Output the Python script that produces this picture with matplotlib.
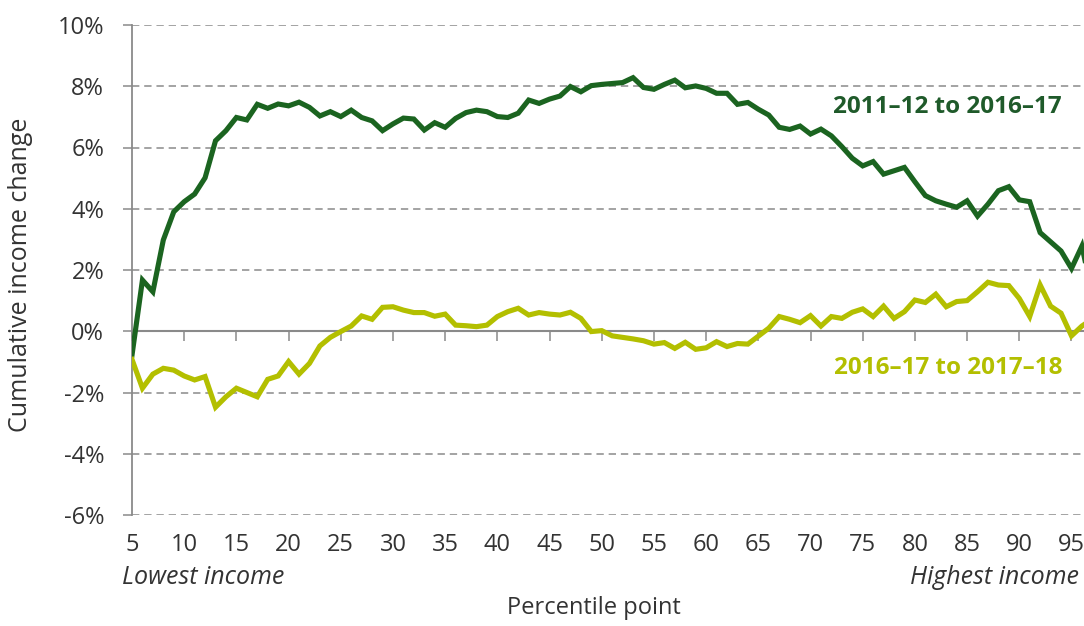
import matplotlib
matplotlib.use("Agg")
import matplotlib.pyplot as plt
import numpy as np

plt.rcParams['font.family'] = ['Open Sans', 'DejaVu Sans']

# Данные: процентили и накопленное изменение дохода (%)
percentiles = list(range(5, 98))

change_2011_2016 = [
    -0.78, 1.67, 1.29, 2.98, 3.90, 4.23, 4.48, 5.01, 6.22, 6.55,
    6.98, 6.90, 7.41, 7.28, 7.42, 7.36, 7.48, 7.31, 7.03, 7.17,
    7.01, 7.22, 6.98, 6.87, 6.55, 6.77, 6.96, 6.93, 6.57, 6.81,
    6.66, 6.95, 7.14, 7.22, 7.17, 7.01, 6.98, 7.12, 7.55, 7.44,
    7.58, 7.68, 7.99, 7.82, 8.02, 8.06, 8.09, 8.12, 8.28, 7.96,
    7.90, 8.06, 8.20, 7.95, 8.01, 7.93, 7.77, 7.77, 7.41, 7.47,
    7.25, 7.06, 6.66, 6.59, 6.70, 6.44, 6.60, 6.38, 6.03, 5.65,
    5.40, 5.54, 5.13, 5.24, 5.35, 4.88, 4.43, 4.26, 4.15, 4.05,
    4.26, 3.76, 4.15, 4.59, 4.72, 4.29, 4.23, 3.22, 2.92, 2.62,
    2.05, 2.78, 1.20,
]

change_2016_2017 = [
    -0.92, -1.86, -1.40, -1.21, -1.27, -1.46, -1.59, -1.48, -2.48, -2.14,
    -1.86, -2.00, -2.14, -1.57, -1.46, -0.99, -1.40, -1.05, -0.48, -0.20,
    -0.01, 0.17, 0.50, 0.39, 0.78, 0.80, 0.69, 0.61, 0.61, 0.49,
    0.56, 0.20, 0.18, 0.15, 0.20, 0.48, 0.64, 0.75, 0.53, 0.61,
    0.56, 0.53, 0.62, 0.42, -0.01, 0.02, -0.15, -0.20, -0.25, -0.31,
    -0.42, -0.37, -0.56, -0.36, -0.59, -0.54, -0.34, -0.50, -0.40, -0.42,
    -0.16, 0.10, 0.48, 0.39, 0.28, 0.51, 0.17, 0.48, 0.42, 0.62,
    0.73, 0.48, 0.82, 0.42, 0.64, 1.02, 0.94, 1.21, 0.80, 0.97,
    1.00, 1.29, 1.60, 1.51, 1.49, 1.07, 0.48, 1.51, 0.82, 0.59,
    -0.15, 0.17, 0.40,
]

x_ticks = list(range(5, 100, 5))
y_ticks = list(range(-6, 12, 2))

dark_green = '#1b6420'
lime = '#b3bf00'
grey = '#8a8a8a'
text_col = '#333333'

fig = plt.figure(figsize=(10.84, 6.26), dpi=100)
ax = fig.add_axes([132 / 1084, 1 - 515 / 626, 1 - 132 / 1084, 490 / 626])

ax.plot(percentiles, change_2011_2016, color=dark_green, lw=3.7, solid_joinstyle='miter', zorder=4)
ax.plot(percentiles, change_2016_2017, color=lime, lw=3.7, solid_joinstyle='miter', zorder=4)

ax.set_xlim(5, 96.2)
ax.set_ylim(-6, 10)

# Сетка
for v in y_ticks:
    ax.axhline(v, color=grey, lw=1.1, linestyle=(0, (4.8, 3.2)), zorder=1)

ax.set_yticks(y_ticks)
ax.set_yticklabels([f'{v}%' for v in y_ticks])
ax.tick_params(axis='y', length=6.5, width=1.1, color=grey, pad=13.5, labelsize=17, labelcolor=text_col)

ax.set_xticks(x_ticks)
ax.set_xticklabels([str(v) for v in x_ticks])
ax.tick_params(axis='x', length=0, pad=13, labelsize=17, labelcolor=text_col)

for s in ['top', 'right', 'bottom']:
    ax.spines[s].set_visible(False)
ax.spines['left'].set_color(grey)
ax.spines['left'].set_linewidth(1.3)

# Ось на уровне 0%
sec = ax.secondary_xaxis(6 / 16)
sec.set_xticks(x_ticks)
sec.tick_params(axis='x', length=7, width=1.1, color=grey, labelbottom=False)
sec.spines['bottom'].set_color(grey)
sec.spines['bottom'].set_linewidth(1.5)

ax.set_ylabel('Cumulative income change', fontsize=18, color=text_col)
ax.yaxis.set_label_coords(-0.104, 0.49)

fig.text(594 / 1084, 1 - 608 / 626, 'Percentile point', ha='center', va='center', fontsize=17, color=text_col)
fig.text(122 / 1084, 1 - 578 / 626, 'Lowest income', ha='left', va='center', fontsize=18,
         style='italic', color=text_col)
fig.text(1079 / 1084, 1 - 578 / 626, 'Highest income', ha='right', va='center', fontsize=18,
         style='italic', color=text_col)

fig.text(947 / 1084, 1 - 107 / 626, '2011–12 to 2016–17', ha='center', va='center', fontsize=17.5,
         fontweight='bold', color='#1f5a2a')
fig.text(948 / 1084, 1 - 368 / 626, '2016–17 to 2017–18', ha='center', va='center', fontsize=17.5,
         fontweight='bold', color=lime)

fig.savefig('out.png', dpi=100)
